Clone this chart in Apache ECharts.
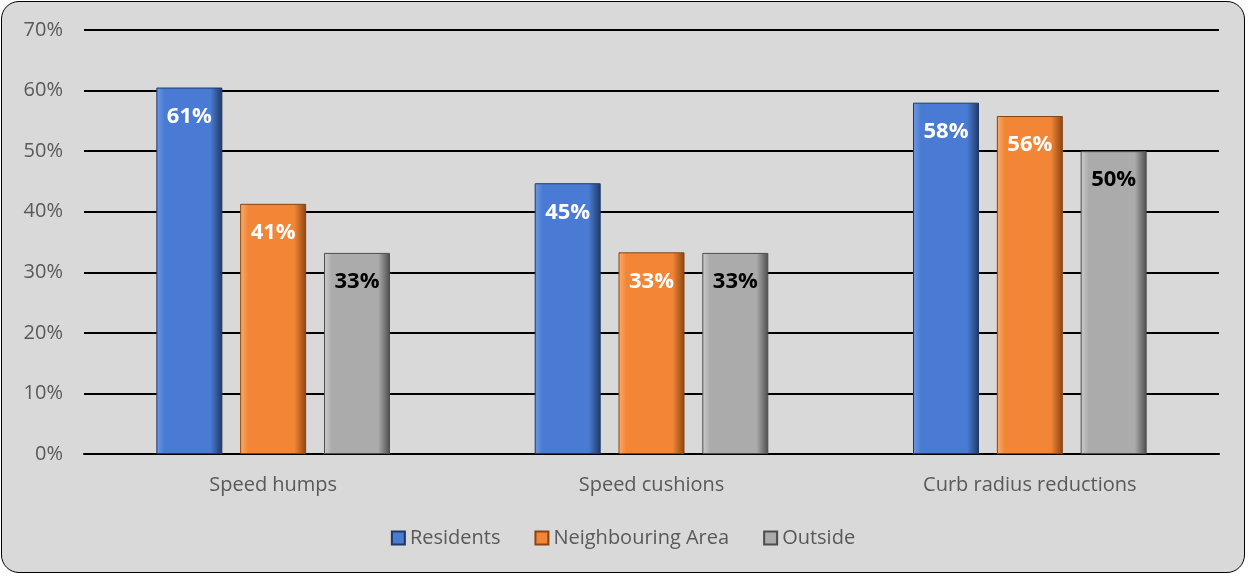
<!DOCTYPE html>
<html><head><meta charset="utf-8">
<script src="https://cdn.jsdelivr.net/npm/echarts@6/dist/echarts.min.js"></script>
<style>
html,body{margin:0;padding:0;background:#fff;}
#c{position:absolute;left:1px;top:1px;width:1244px;height:572px;background:#d9d9d9;border:1.5px solid #000;border-radius:18px;box-sizing:border-box;}
</style></head><body>
<div id="c"></div>
<script>
const categories = ['Speed humps', 'Speed cushions', 'Curb radius reductions'];
const residents = [0.605, 0.447, 0.580];
const neighbouring = [0.413, 0.333, 0.558];
const outside = [0.332, 0.332, 0.500];
const seriesNames = ['Residents', 'Neighbouring Area', 'Outside'];

function grad(light, base, dark) {
  return new echarts.graphic.LinearGradient(0, 0, 1, 0, [
    {offset: 0, color: light}, {offset: 0.12, color: base},
    {offset: 0.82, color: base}, {offset: 1, color: dark}
  ]);
}
const font = '"Open Sans", "Noto Sans", sans-serif';
function mk(name, data, light, base, dark, labelColor) {
  return {
    name, type: 'bar', data, barWidth: 66, barGap: '27%',
    itemStyle: {color: grad(light, base, dark), borderColor: dark, borderWidth: 1},
    label: {show: true, position: 'insideTop', distance: 18, color: labelColor,
      fontFamily: font, fontWeight: 'bold', fontSize: 22,
      formatter: p => Math.round(p.value * 100) + '%'}
  };
}
const chart = echarts.init(document.getElementById('c'));
chart.setOption({
  animation: false,
  grid: {left: 82, right: 25, top: 28, bottom: 118},
  legend: {bottom: 19, left: 'center', itemWidth: 13, itemHeight: 13, itemGap: 34,
    textStyle: {color: '#595959', fontSize: 20, fontFamily: font},
    icon: 'rect', data: seriesNames},
  xAxis: {type: 'category', data: categories,
    axisLine: {show: true, lineStyle: {color: '#000', width: 2}},
    axisTick: {show: false},
    axisLabel: {color: '#595959', fontSize: 20, fontFamily: font, margin: 21}},
  yAxis: {type: 'value', min: 0, max: 0.7, interval: 0.1,
    axisLine: {show: false}, axisTick: {show: false},
    splitLine: {lineStyle: {color: '#000', width: 2}},
    axisLabel: {color: '#595959', fontSize: 20, fontFamily: font, margin: 21,
      formatter: v => Math.round(v * 100) + '%'}},
  series: [
    mk(seriesNames[0], residents, '#7199e0', '#4a7bd4', '#1f3864', '#fff'),
    mk(seriesNames[1], neighbouring, '#f9ad70', '#f28636', '#8a4412', '#fff'),
    mk(seriesNames[2], outside, '#cccccc', '#ababab', '#4d4d4d', '#000')
  ]
});
</script>
</body></html>
